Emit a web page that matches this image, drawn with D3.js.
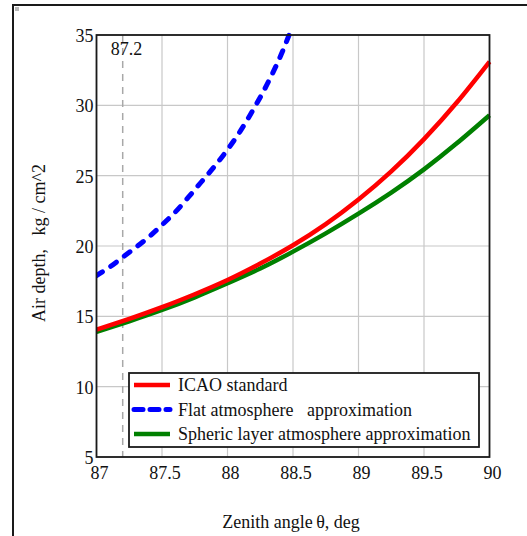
<!DOCTYPE html>
<html>
<head>
  <meta charset="utf-8">
  <title>Air depth vs zenith angle</title>
  <script src="https://d3js.org/d3.v7.min.js"></script>
  <style>
    body { margin: 0; background: #fff; }
    svg text { font-family: "Liberation Serif", "Times New Roman", serif; fill: #111; }
  </style>
</head>
<body>
  <svg width="527" height="536" font-family="Liberation Serif, serif"></svg>
  <script>
    // data
    var xTicks = [87, 87.5, 88, 88.5, 89, 89.5, 90];
    var yTicks = [5, 10, 15, 20, 25, 30, 35];
    var markAngle = 87.2;

    var icaoAngle = [87, 87.25, 87.5, 87.75, 88, 88.25, 88.5, 88.75, 89, 89.25, 89.5, 89.75, 90];
    var icaoDepth = [14.05, 14.82, 15.65, 16.57, 17.58, 18.75, 20.05, 21.55, 23.3, 25.3, 27.6, 30.2, 33.1];

    var flatAngle = [87, 87.1, 87.2, 87.3, 87.4, 87.5, 87.6, 87.7, 87.8, 87.9, 88, 88.1, 88.2, 88.3, 88.4, 88.47];
    var flatDepth = [17.9, 18.5, 19.2, 19.9, 20.65, 21.5, 22.4, 23.45, 24.55, 25.65, 26.85, 28.2, 29.75, 31.45, 33.4, 35.0];

    var sphAngle = [87, 87.25, 87.5, 87.75, 88, 88.25, 88.5, 88.75, 89, 89.25, 89.5, 89.75, 90];
    var sphDepth = [13.9, 14.65, 15.45, 16.35, 17.35, 18.4, 19.6, 20.9, 22.3, 23.8, 25.45, 27.3, 29.3];

    var seriesNames = ["ICAO standard", "Flat atmosphere   approximation", "Spheric layer atmosphere approximation"];
    var seriesColors = ["#ff0000", "#0000ff", "#008000"];

    var svg = d3.select("svg");

    // outer frame (clipped by the page on right and bottom)
    svg.append("rect")
      .attr("x", 13).attr("y", 5)
      .attr("width", 600).attr("height", 600)
      .attr("fill", "#fff")
      .attr("stroke", "#1a1a1a")
      .attr("stroke-width", 2);
    svg.append("rect")
      .attr("x", 15).attr("y", 7).attr("width", 4).attr("height", 4)
      .attr("fill", "#b8b8b8");

    var plot = { left: 96.5, right: 489.5, top: 35, bottom: 457 };

    var x = d3.scaleLinear().domain([87, 90]).range([plot.left, plot.right]);
    var y = d3.scaleLinear().domain([5, 35]).range([plot.bottom, plot.top]);

    var g = svg.append("g");

    // grid
    g.append("g")
      .selectAll("line")
      .data(xTicks)
      .enter()
      .append("line")
      .attr("x1", function (d) { return x(d); })
      .attr("x2", function (d) { return x(d); })
      .attr("y1", plot.top).attr("y2", plot.bottom)
      .attr("stroke", "#c8c8c8").attr("stroke-width", 1.2);
    g.append("g")
      .selectAll("line")
      .data(yTicks)
      .enter()
      .append("line")
      .attr("x1", plot.left).attr("x2", plot.right)
      .attr("y1", function (d) { return y(d); })
      .attr("y2", function (d) { return y(d); })
      .attr("stroke", "#c8c8c8").attr("stroke-width", 1.2);

    // marker at 87.2
    g.append("line")
      .attr("x1", x(markAngle)).attr("x2", x(markAngle))
      .attr("y1", plot.top).attr("y2", plot.bottom)
      .attr("stroke", "#a8a8a8").attr("stroke-width", 1.5)
      .attr("stroke-dasharray", "7,6");
    g.append("text")
      .attr("x", x(markAngle) - 12).attr("y", 55)
      .attr("font-size", 18)
      .text("87.2");

    // curves
    var line = d3.line()
      .x(function (d) { return x(d[0]); })
      .y(function (d) { return y(d[1]); })
      .curve(d3.curveNatural);

    svg.append("clipPath").attr("id", "clip")
      .append("rect")
      .attr("x", plot.left).attr("y", plot.top - 3)
      .attr("width", plot.right - plot.left + 3)
      .attr("height", plot.bottom - plot.top + 3);

    var curves = g.append("g").attr("clip-path", "url(#clip)");

    curves.append("path")
      .attr("d", line(d3.zip(sphAngle, sphDepth)))
      .attr("fill", "none").attr("stroke", seriesColors[2]).attr("stroke-width", 4.5);
    curves.append("path")
      .attr("d", line(d3.zip(icaoAngle, icaoDepth)))
      .attr("fill", "none").attr("stroke", seriesColors[0]).attr("stroke-width", 4.5);
    curves.append("path")
      .attr("d", line(d3.zip(flatAngle, flatDepth)))
      .attr("fill", "none").attr("stroke", seriesColors[1]).attr("stroke-width", 5)
      .attr("stroke-linecap", "round")
      .attr("stroke-dasharray", "7,10");

    // plot border
    g.append("rect")
      .attr("x", plot.left).attr("y", plot.top)
      .attr("width", plot.right - plot.left)
      .attr("height", plot.bottom - plot.top)
      .attr("fill", "none").attr("stroke", "#1a1a1a").attr("stroke-width", 1.8);

    // tick labels
    g.append("g")
      .selectAll("text")
      .data(yTicks)
      .enter()
      .append("text")
      .attr("x", plot.left - 3)
      .attr("y", function (d) { return y(d) + 7; })
      .attr("text-anchor", "end")
      .attr("font-size", 18)
      .text(function (d) { return d; });
    g.append("g")
      .selectAll("text")
      .data(xTicks)
      .enter()
      .append("text")
      .attr("x", function (d) { return x(d) + 3; })
      .attr("y", 479)
      .attr("text-anchor", "middle")
      .attr("font-size", 18)
      .text(function (d) { return d; });

    // axis titles
    svg.append("text")
      .attr("transform", "translate(45," + ((plot.top + plot.bottom) / 2 - 3) + ") rotate(-90)")
      .attr("text-anchor", "middle")
      .attr("font-size", 18)
      .style("white-space", "pre")
      .text("Air depth,   kg / cm^2");
    svg.append("text")
      .attr("x", 291).attr("y", 528)
      .attr("text-anchor", "middle")
      .attr("font-size", 18)
      .text("Zenith angle\u2009\u03b8, deg");

    // legend
    var legend = svg.append("g");
    legend.append("rect")
      .attr("x", 129).attr("y", 373)
      .attr("width", 350).attr("height", 74)
      .attr("fill", "#fff").attr("stroke", "#1a1a1a").attr("stroke-width", 1.8);
    var rows = legend.selectAll("g.row")
      .data(seriesNames)
      .enter()
      .append("g")
      .attr("transform", function (d, i) { return "translate(0," + (385 + i * 24.5) + ")"; });
    rows.append("line")
      .attr("x1", 134).attr("x2", 170)
      .attr("stroke", function (d, i) { return seriesColors[i]; })
      .attr("stroke-width", function (d, i) { return i == 1 ? 5 : 4.5; })
      .attr("stroke-linecap", function (d, i) { return i == 1 ? "round" : "butt"; })
      .attr("stroke-dasharray", function (d, i) { return i == 1 ? "9,7" : null; });
    rows.append("text")
      .attr("x", 178).attr("y", 6)
      .attr("font-size", 18)
      .style("white-space", "pre")
      .text(function (d) { return d; });
  </script>
</body>
</html>
